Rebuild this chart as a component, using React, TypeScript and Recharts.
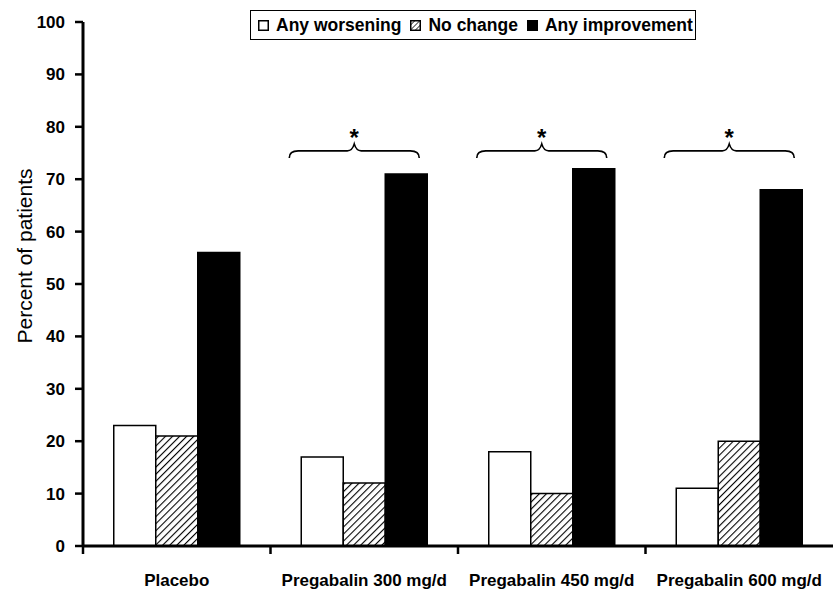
import React from 'react';
import { BarChart, Bar, XAxis, YAxis, Legend, LabelList } from 'recharts';

const categories = ['Placebo', 'Pregabalin 300 mg/d', 'Pregabalin 450 mg/d', 'Pregabalin 600 mg/d'];
const worsening = [23, 17, 18, 11];
const noChange = [21, 12, 10, 20];
const improvement = [56, 71, 72, 68];
const significant = [false, true, true, true];
const yTicks = [0, 10, 20, 30, 40, 50, 60, 70, 80, 90, 100];
const braceLevel = 75.4;

const data = categories.map((name, i) => ({
  name,
  worsening: worsening[i],
  noChange: noChange[i],
  improvement: improvement[i],
  sig: significant[i],
}));

const FONT = '"Liberation Sans", Arial, sans-serif';

const XTick = (props: any) => {
  const { x, y, payload } = props;
  const half = payload && typeof payload.offset === 'number' ? payload.offset : 0;
  const bx = x - half;
  return (
    <g>
      <line x1={bx} x2={bx} y1={y - 8} y2={y} stroke="#000" strokeWidth={2.5} />
      <text x={x} y={y + 32} textAnchor="middle" fontFamily={FONT} fontWeight="bold" fontSize={17} fill="#000">
        {payload.value}
      </text>
    </g>
  );
};

const Brace = (props: any) => {
  const { index } = props;
  const vb = props.viewBox || props;
  const { x, y, width, height } = vb;
  const value = improvement[index];
  if (!significant[index] || !value || !height) return null;
  const baseline = y + height;
  const pxPerUnit = height / value;
  const yl = baseline - braceLevel * pxPerUnit;
  const groupL = x - 2 * width;
  const groupR = x + width;
  const L = groupL - 12;
  const R = groupR - 8;
  const C = (L + R) / 2;
  const d = `M ${L} ${yl + 7} Q ${L} ${yl} ${L + 9} ${yl} H ${C - 7} Q ${C - 2} ${yl} ${C} ${yl - 7} Q ${C + 2} ${yl} ${C + 7} ${yl} H ${R - 9} Q ${R} ${yl} ${R} ${yl + 7}`;
  return (
    <g>
      <path d={d} fill="none" stroke="#000" strokeWidth={1.6} />
      <text x={C} y={yl - 5} textAnchor="middle" fontFamily={FONT} fontWeight="bold" fontSize={24} fill="#000">
        *
      </text>
    </g>
  );
};

const Swatch = ({ kind }: { kind: string }) => (
  <svg width={11} height={11} style={{ display: 'block' }}>
    <defs>
      <pattern id="hatchLegend" patternUnits="userSpaceOnUse" width={3.5} height={3.5} patternTransform="rotate(45)">
        <rect width={3.5} height={3.5} fill="#fff" />
        <line x1={0} y1={0} x2={0} y2={3.5} stroke="#000" strokeWidth={1.4} />
      </pattern>
    </defs>
    <rect
      x={0.75}
      y={0.75}
      width={9.5}
      height={9.5}
      fill={kind === 'white' ? '#fff' : kind === 'hatch' ? 'url(#hatchLegend)' : '#000'}
      stroke="#000"
      strokeWidth={1.5}
    />
  </svg>
);

const legendItems = [
  { kind: 'white', label: 'Any worsening' },
  { kind: 'hatch', label: 'No change' },
  { kind: 'black', label: 'Any improvement' },
];

const LegendBox = () => (
  <div
    style={{
      display: 'flex',
      alignItems: 'center',
      border: '1.5px solid #000',
      height: 30,
      padding: '0 2px 0 7px',
      boxSizing: 'border-box',
      fontFamily: FONT,
      fontWeight: 'bold',
      fontSize: 17.5,
      color: '#000',
      background: '#fff',
      whiteSpace: 'nowrap',
    }}
  >
    {legendItems.map((it, i) => (
      <div key={it.label} style={{ display: 'flex', alignItems: 'center', marginRight: i < 2 ? 9 : 0 }}>
        <Swatch kind={it.kind} />
        <span style={{ marginLeft: 7 }}>{it.label}</span>
      </div>
    ))}
  </div>
);

export default function App() {
  return (
    <div style={{ position: 'absolute', left: 0, top: 0, width: 833, height: 593, background: '#fff' }}>
      <BarChart
        width={833}
        height={593}
        data={data}
        margin={{ top: 22, right: 0, bottom: 0, left: 0 }}
        barCategoryGap="16.4%"
        barGap={0}
      >
        <defs>
          <pattern id="hatch" patternUnits="userSpaceOnUse" width={5} height={5} patternTransform="rotate(45)">
            <rect width={5} height={5} fill="#fff" />
            <line x1={0} y1={0} x2={0} y2={5} stroke="#000" strokeWidth={2.2} />
          </pattern>
        </defs>
        <XAxis
          dataKey="name"
          height={47}
          axisLine={{ stroke: '#000', strokeWidth: 3 }}
          tickLine={false}
          tickSize={8}
          tickMargin={0}
          tick={<XTick />}
          interval={0}
        />
        <YAxis
          width={83}
          domain={[0, 100]}
          ticks={yTicks}
          interval={0}
          axisLine={{ stroke: '#000', strokeWidth: 3 }}
          tickLine={{ stroke: '#000', strokeWidth: 2.5 }}
          tickSize={8}
          tickMargin={10}
          tick={{ fill: '#000', fontFamily: FONT, fontWeight: 'bold', fontSize: 17 }}
          label={{
            content: () => (
              <text
                x={24}
                y={256}
                transform="rotate(-90 24 256)"
                textAnchor="middle"
                dominantBaseline="central"
                fontFamily={FONT}
                fontSize={21}
                fill="#000"
              >
                Percent of patients
              </text>
            ),
          }}
        />
        <Legend
          layout="horizontal"
          verticalAlign="middle"
          align="center"
          content={<LegendBox />}
          wrapperStyle={{ position: 'absolute', top: 10, left: 250, width: 'auto', height: 'auto' }}
        />
        <Bar dataKey="worsening" fill="#fff" stroke="#000" strokeWidth={1.5} isAnimationActive={false} />
        <Bar dataKey="noChange" fill="url(#hatch)" stroke="#000" strokeWidth={1.5} isAnimationActive={false} />
        <Bar dataKey="improvement" fill="#000" stroke="#000" strokeWidth={1.5} isAnimationActive={false}>
          <LabelList dataKey="improvement" content={<Brace />} />
        </Bar>
      </BarChart>
    </div>
  );
}
